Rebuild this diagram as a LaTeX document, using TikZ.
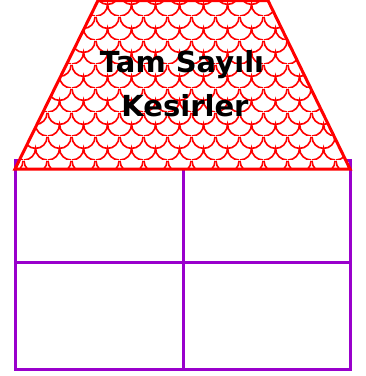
\documentclass[tikz,border=0pt]{standalone}
\usepackage{fontspec}
\setmainfont{DejaVu Sans}
\usetikzlibrary{patterns.meta}
\definecolor{gridpurple}{RGB}{153,0,204}
\definecolor{scalered}{RGB}{255,0,0}
\pgfdeclarepattern{
  name=fishscales,
  type=uncolored,
  bottom left={\pgfpoint{0pt}{0pt}},
  top right={\pgfpoint{24pt}{24pt}},
  tile size={\pgfpoint{24pt}{24pt}},
  code={
    \pgfsetlinewidth{1.7pt}
    \pgfpathmoveto{\pgfpoint{0pt}{24pt}}
    \pgfpatharc{180}{360}{12pt and 12pt}
    \pgfpathmoveto{\pgfpoint{0pt}{0pt}}
    \pgfpatharc{270}{360}{12pt and 12pt}
    \pgfpatharc{180}{270}{12pt and 12pt}
    \pgfusepath{stroke}
  }
}
\tikzset{
  gridline/.style={draw=gridpurple, line width=3pt},
  trapline/.style={draw=scalered, line width=3pt, line join=miter},
  label/.style={font=\bfseries\fontsize{29}{32}\selectfont, text=black, inner sep=0pt}
}
\begin{document}
\begin{tikzpicture}[x=1pt,y=-1pt]
\useasboundingbox (0,0) rectangle (366,376);
% grid
\coordinate (gtl) at (15,160);
\coordinate (gbr) at (350,369);
\draw[gridline] (gtl) rectangle (gbr);
\coordinate (vt) at (183,160);
\coordinate (vb) at (183,369);
\coordinate (hl) at (15,262);
\coordinate (hr) at (350,262);
\draw[gridline] (vt) -- (vb);
\draw[gridline] (hl) -- (hr);
% trapezoid
\coordinate (tl) at (98,0.5);
\coordinate (tr) at (268,0.5);
\coordinate (br) at (350,169);
\coordinate (bl) at (15,169);
\fill[white] (tl) -- (tr) -- (br) -- (bl) -- cycle;
\fill[pattern={fishscales}, pattern color=scalered] (tl) -- (tr) -- (br) -- (bl) -- cycle;
\draw[trapline] (tl) -- (tr) -- (br) -- (bl) -- cycle;
% text
\node[label, anchor=base] (t1) at (182,72) {Tam Sayılı};
\node[label, anchor=base] (t2) at (185,116) {Kesirler};
\end{tikzpicture}
\end{document}
